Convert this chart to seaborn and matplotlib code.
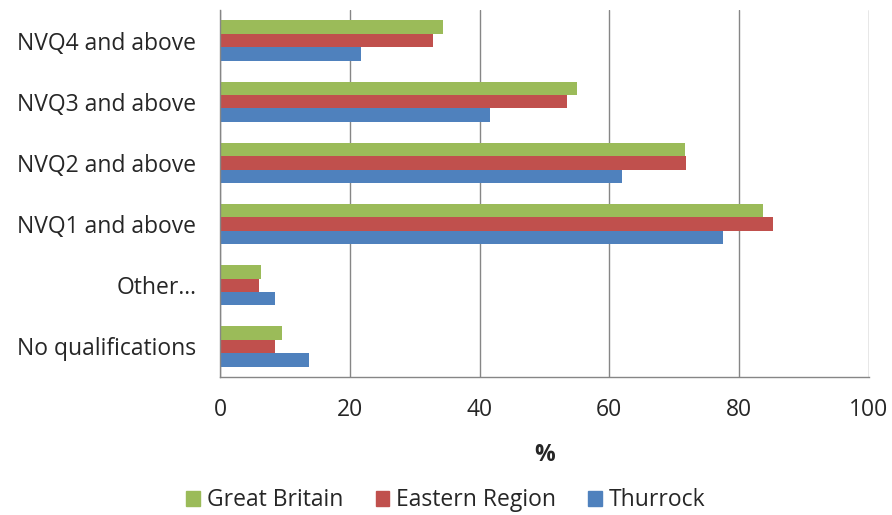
import matplotlib
matplotlib.use("Agg")
import matplotlib.pyplot as plt
import numpy as np
import pandas as pd
import seaborn as sns

# ---------------------------
# data
# ---------------------------
categories = ["NVQ4 and above", "NVQ3 and above", "NVQ2 and above",
              "NVQ1 and above", "Other\u2026", "No qualifications"]
series = ["Great Britain", "Eastern Region", "Thurrock"]
great_britain = [34.3, 55.0, 71.6, 83.7, 6.3, 9.6]
eastern_region = [32.8, 53.5, 71.8, 85.3, 6.0, 8.5]
thurrock = [21.8, 41.6, 61.9, 77.6, 8.5, 13.7]
colors = ["#9BBB59", "#C0504D", "#4F81BD"]

df = pd.DataFrame({
    "category": categories * 3,
    "series": [s for s in series for _ in categories],
    "value": great_britain + eastern_region + thurrock,
})

sns.set_style("white")
plt.rcParams["font.family"] = ["Open Sans", "DejaVu Sans"]
FS = 16.5

fig = plt.figure(figsize=(8.92, 5.15), dpi=100)
ax = fig.add_axes([0.2466, 0.268, 0.7274, 0.7126])

sns.barplot(
    data=df, x="value", y="category", hue="series",
    order=categories, hue_order=series, palette=colors,
    orient="h", width=0.66, gap=0, linewidth=0, saturation=1,
    legend=True, ax=ax,
)

ax.set_xlim(0, 100)
ax.set_ylim(len(categories) - 0.5, -0.5)
ax.set_xticks(np.arange(0, 101, 20))
ax.xaxis.grid(True, color="#868686", linewidth=1)
ax.set_axisbelow(True)

for side in ["top", "right"]:
    ax.spines[side].set_visible(False)
for side in ["left", "bottom"]:
    ax.spines[side].set_color("#868686")
    ax.spines[side].set_linewidth(1)

ax.set_yticks(np.arange(len(categories)))
ax.set_yticks(np.arange(-0.5, len(categories), 1), minor=True)
ax.tick_params(axis="y", which="major", length=0, pad=17, labelsize=FS)
ax.tick_params(axis="y", which="minor", length=5, color="#868686", direction="out")
ax.tick_params(axis="x", length=5, color="#868686", labelsize=FS, pad=10)

ax.set_ylabel("")
ax.set_xlabel("%", fontsize=FS, fontweight="bold", labelpad=15)

ax.legend_.remove()
handles = [plt.Rectangle((0, 0), 1, 1, color=c) for c in colors]
fig.legend(handles, series, loc="lower center", bbox_to_anchor=(0.5, -0.035),
           ncol=3, frameon=False, fontsize=FS, handlelength=0.6,
           handleheight=0.6, handletextpad=0.3, columnspacing=1.4)

fig.savefig("out.png", dpi=100)
